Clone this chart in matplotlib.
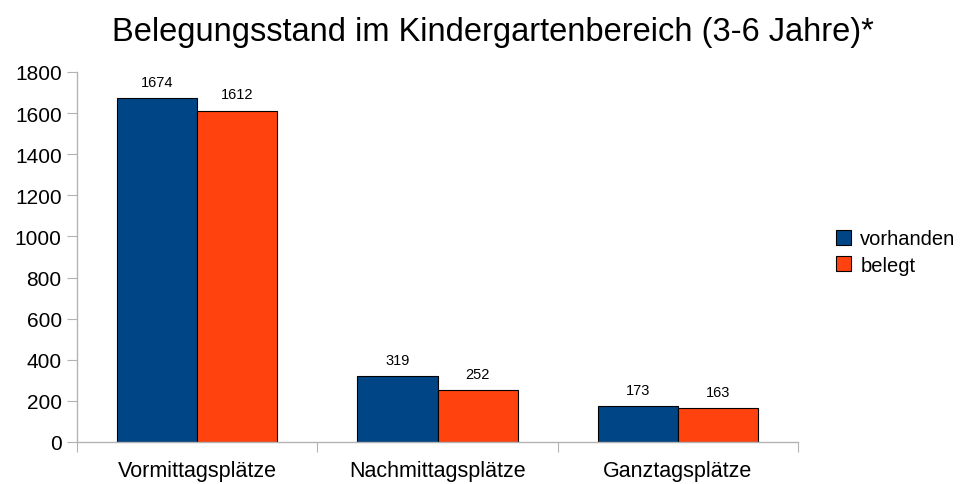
import matplotlib
matplotlib.use("Agg")
import matplotlib.pyplot as plt
from matplotlib.ticker import FixedLocator, NullFormatter

plt.rcParams['font.family'] = ['Liberation Sans', 'DejaVu Sans']

categories = ["Vormittagsplätze", "Nachmittagsplätze", "Ganztagsplätze"]
vorhanden = [1674, 319, 173]
belegt = [1612, 252, 163]
series_names = ["vorhanden", "belegt"]
colors = ["#004586", "#ff420e"]
yticks = [0, 200, 400, 600, 800, 1000, 1200, 1400, 1600, 1800]

fig = plt.figure(figsize=(9.61, 4.85), dpi=100)
ax = fig.add_axes([77/961, 1-443/485, (798-77)/961, (443-73)/485])

w = 1/3
centers = [i + 0.5 for i in range(len(categories))]
b1 = ax.bar([c - w/2 for c in centers], vorhanden, width=w, color=colors[0],
            edgecolor="black", linewidth=0.8, label=series_names[0])
b2 = ax.bar([c + w/2 for c in centers], belegt, width=w, color=colors[1],
            edgecolor="black", linewidth=0.8, label=series_names[1])
for bars, vals in ((b1, vorhanden), (b2, belegt)):
    for r, v in zip(bars, vals):
        ax.text(r.get_x() + r.get_width()/2, v + 45, str(v), ha="center",
                va="bottom", fontsize=10.5, color="black")

ax.set_xlim(0, 3)
ax.set_ylim(0, 1800)
ax.set_yticks(yticks)
ax.tick_params(axis="y", length=7, color="#b3b3b3", labelsize=15, pad=4)
ax.xaxis.set_major_locator(FixedLocator([0, 1, 2, 3]))
ax.xaxis.set_major_formatter(NullFormatter())
ax.xaxis.set_minor_locator(FixedLocator(centers))
ax.set_xticklabels(categories, minor=True)
ax.tick_params(axis="x", which="major", length=7, color="#b3b3b3", direction="out")
ax.tick_params(axis="x", which="minor", length=0, labelsize=15.5, pad=13)
for s in ("top", "right"):
    ax.spines[s].set_visible(False)
for s in ("left", "bottom"):
    ax.spines[s].set_color("#b3b3b3")
    ax.spines[s].set_linewidth(1)

fig.text(493/961, 1 - 33/485, "Belegungsstand im Kindergartenbereich (3-6 Jahre)*",
         ha="center", va="center", fontsize=23.5)

leg = fig.legend(handles=[b1, b2], labels=series_names, loc="center left",
                 bbox_to_anchor=(828/961, 1 - 253/485), frameon=False,
                 fontsize=14.5, handlelength=0.75, handleheight=0.75,
                 handletextpad=0.45, labelspacing=0.35, borderaxespad=0)

fig.savefig("out.png", dpi=100)
